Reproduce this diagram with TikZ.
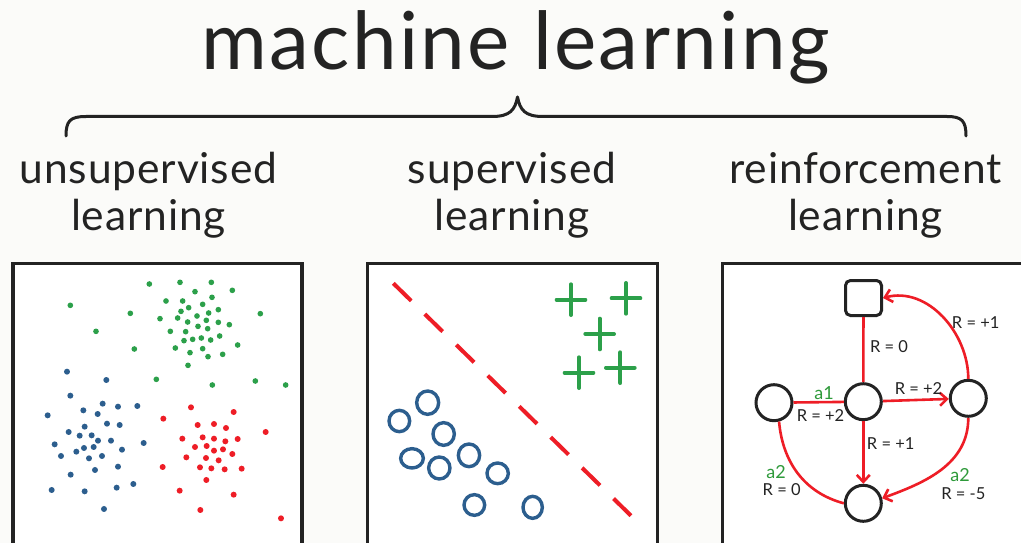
\documentclass[tikz,border=0pt]{standalone}
\usepackage{fontspec}
\setmainfont{Lato}
\usetikzlibrary{arrows.meta}
\definecolor{bg}{HTML}{FBFBF9}
\definecolor{ink}{HTML}{232323}
\definecolor{mlred}{HTML}{EE1D26}
\definecolor{mlgreen}{HTML}{2CA04A}
\definecolor{mlblue}{HTML}{2C5E8E}
\definecolor{lblgreen}{HTML}{2E9A3A}
\tikzset{
  panel/.style={draw=ink, line width=3.5pt, fill=white},
  brace/.style={draw=ink, line width=3pt, line cap=round, line join=round},
  titletxt/.style={text=ink, inner sep=0pt, font=\fontsize{80}{90}\selectfont\addfontfeatures{LetterSpace=3}},
  subtxt/.style={text=ink, inner sep=0pt, font=\fontsize{42.5}{47}\selectfont\addfontfeatures{LetterSpace=2}},
  state/.style={circle, draw=ink, line width=3pt, minimum size=36pt, inner sep=0pt, fill=white},
  term/.style={rectangle, rounded corners=5pt, draw=ink, line width=3pt, minimum width=36pt, minimum height=35pt, inner sep=0pt, fill=white},
  edge/.style={draw=mlred, line width=2.6pt},
  arr/.style={-{Straight Barb[length=7pt,width=13pt,line width=2.6pt]}},
  lbl/.style={text=ink, inner sep=0pt, font=\fontsize{16.5}{18}\selectfont},
  albl/.style={text=lblgreen, inner sep=0pt, font=\fontsize{18}{20}\selectfont},
}
\begin{document}
\begin{tikzpicture}[x=1pt,y=-1pt]
\clip (0,0) rectangle (1021,543);
\fill[bg] (0,0) rectangle (1021,543);

% title and brace
\node[titletxt, anchor=base] (title) at (515.5,70) {machine learning};
\draw[brace] (66,136) .. controls (66,121) and (70,116.5) .. (86,116.5) -- (492,116.5)
  .. controls (510,116.5) and (515,110) .. (517.5,97)
  .. controls (520,110) and (525,116.5) .. (543,116.5) -- (947,116.5)
  .. controls (962,116.5) and (966,121) .. (966,136);

% subtitles
\node[subtxt, anchor=base] (u1) at (148.5,183) {unsupervised};
\node[subtxt, anchor=base] (u2) at (148.5,230) {learning};
\node[subtxt, anchor=base] (s1) at (512,183) {supervised};
\node[subtxt, anchor=base] (s2) at (512,230) {learning};
\node[subtxt, anchor=base] (r1) at (865.5,183) {reinforcement};
\node[subtxt, anchor=base] (r2) at (865.5,230) {learning};

% panels
\draw[panel] (13,263.5) rectangle (302,560);
\draw[panel] (367.5,263.5) rectangle (657.5,560);
\draw[panel] (722.5,263.5) rectangle (1040,560);

% panel 1: clusters
\begin{scope}[shift={(0,250)}, scale=1/3]
\foreach \p in {(448,102),(540,97),(634,97),(697,121),(585,125),(498,153),(548,153),(636,142),(608,163),(566,173),(543,184),(655,179),(626,189),(591,198),(480,206),(533,204),(563,216),(619,211),(655,217),(688,224),(594,229),(623,236),(511,244),(557,245),(659,258),(578,268),(552,272),(604,264),(632,270),(713,285),(526,294),(608,296),(570,308),(668,313),(624,320),(564,346),(211,166),(391,190),(288,244),(403,297),(469,388),(637,405),(766,393),(857,405),(781,191)}
  \fill[mlgreen] \p circle (8.5);
\foreach \p in {(201,365),(319,390),(211,437),(308,461),(354,470),(412,468),(250,481),(293,492),(143,496),(321,521),(359,525),(254,530),(206,546),(239,557),(275,556),(294,572),(333,572),(164,583),(252,594),(281,591),(431,579),(229,605),(366,599),(183,618),(306,618),(267,625),(354,650),(285,660),(212,674),(400,702),(350,713),(155,720),(254,724),(312,777)}
  \fill[mlblue] \p circle (9);
\foreach \p in {(573,472),(701,486),(490,506),(593,525),(642,522),(678,534),(797,546),(547,566),(608,562),(642,566),(676,574),(713,567),(585,591),(620,588),(669,598),(642,602),(697,612),(559,622),(618,624),(656,631),(488,651),(600,652),(634,655),(674,658),(725,656),(619,690),(539,722),(701,734),(601,780),(843,805)}
  \fill[mlred] \p circle (9);
\end{scope}

% panel 2: classification
\begin{scope}[shift={(340,250)}, scale=1/3]
\draw[mlred, line width=4pt, dash pattern=on 25pt off 19pt] (160,100) -- (873,797);
\foreach \x/\y in {693/149,858/145,779/252,717/368,841/353}
  \draw[mlgreen, line width=4pt, line cap=round] (\x-43,\y) -- (\x+43,\y) (\x,\y-46) -- (\x,\y+46);
\foreach \x/\y/\a/\b in {263/458/33/35,178/513/31/32,311/552/32/34,216/625/34/29,298/654/32/33,387/616/32/34,473/670/32/31,403/765/31/31,578/772/29/33}
  \draw[mlblue, line width=3.4pt] (\x,\y) ellipse ({\a} and {\b});
\end{scope}

% panel 3: reinforcement learning graph
\node[term]  (sq) at (863.5,298) {};
\node[state] (c)  at (863.3,401.7) {};
\node[state] (lc) at (774,402.7) {};
\node[state] (rc) at (968.3,398.3) {};
\node[state] (bc) at (863.3,503.3) {};

\draw[edge] (sq) -- (c);
\draw[edge] (lc) -- (c);
\draw[edge,arr] (c) -- (rc);
\draw[edge,arr] (c) -- (bc);
\draw[edge,arr] (rc.north) to[out=90,in=15] (sq.east);
\draw[edge,arr] (rc.south) to[out=-90,in=20] (bc.15);
\draw[edge] (lc.-75) to[out=-85,in=165] (bc.west);

\node[lbl]  (l0) at (889,346.7) {R = 0};
\node[albl] (la1) at (824,393) {a1};
\node[lbl]  (l2) at (820.5,416) {R = +2};
\node[lbl]  (l3) at (918.5,388.3) {R = +2};
\node[lbl]  (l4) at (890.7,443.3) {R = +1};
\node[lbl]  (l5) at (975.7,322.7) {R = +1};
\node[albl] (la2) at (776,472.5) {a2};
\node[lbl]  (l6) at (781.7,490) {R = 0};
\node[albl] (la3) at (960,475) {a2};
\node[lbl]  (l7) at (963.3,493.3) {R = -5};
\end{tikzpicture}
\end{document}
